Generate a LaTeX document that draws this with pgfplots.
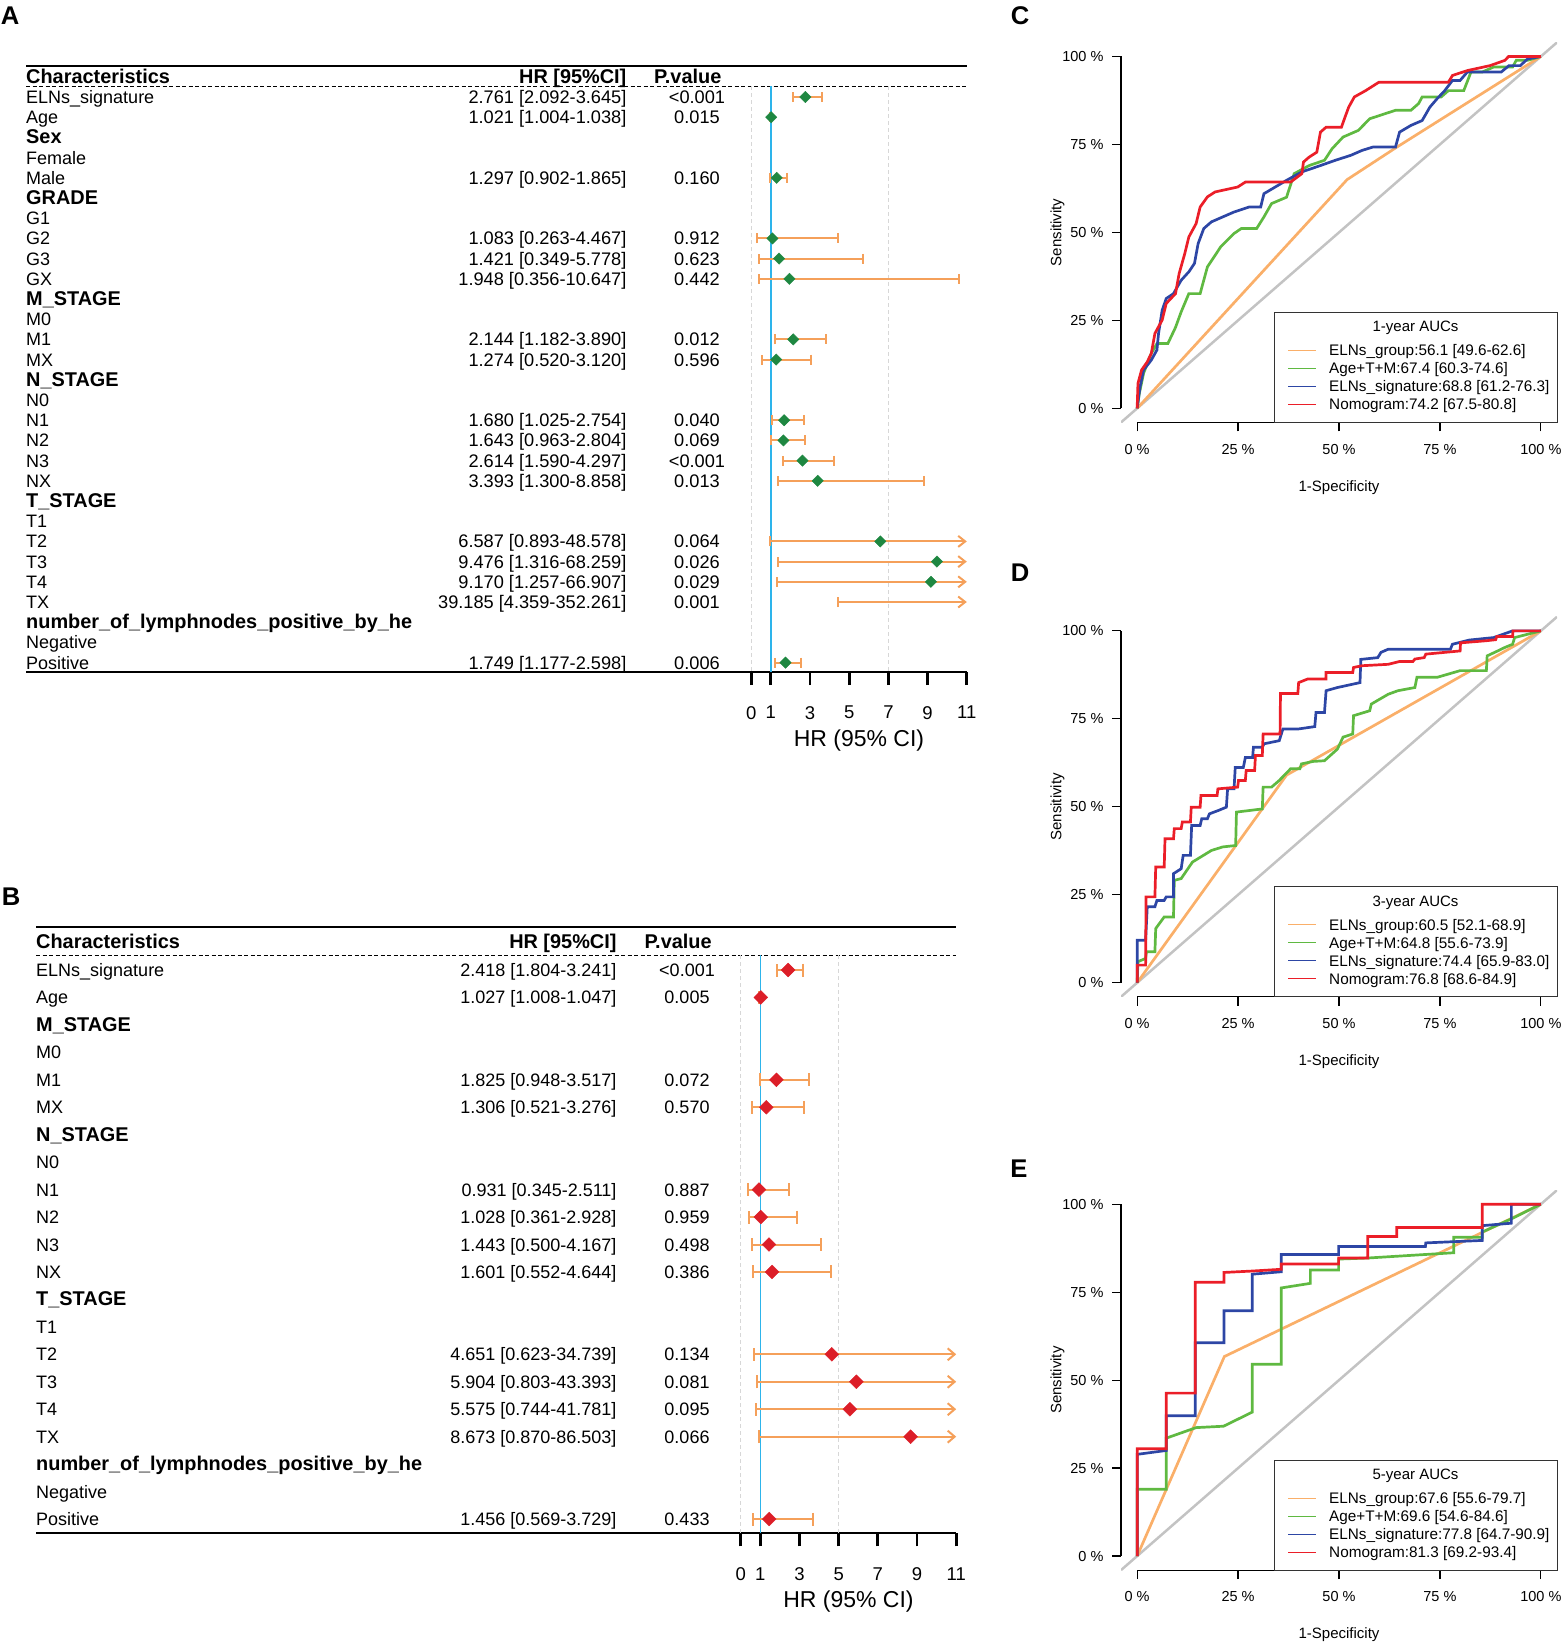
\documentclass[border=0pt]{standalone}
\usepackage{pgfplots}
\pgfplotsset{compat=1.18}
\usepackage{pgfplotstable}
\usepackage{fontspec}
\setmainfont{Liberation Sans}
\usetikzlibrary{arrows.meta}

\definecolor{ciorange}{RGB}{245,160,90}
\definecolor{dgreen}{RGB}{30,135,65}
\definecolor{dred}{RGB}{220,30,40}
\definecolor{refblue}{RGB}{45,180,235}
\definecolor{dashgray}{RGB}{215,215,215}
\definecolor{rocor}{RGB}{250,175,105}
\definecolor{rocgr}{RGB}{95,185,65}
\definecolor{rocbl}{RGB}{45,70,165}
\definecolor{rocrd}{RGB}{235,30,40}
\definecolor{rocdg}{RGB}{195,195,195}

\newcommand{\fs}[1]{\fontsize{#1}{#1}\selectfont}
\newcommand{\hd}[1]{{\bfseries\fs{19.9}#1}}

% R-style legend box in the lower right corner of a ROC panel
% #1 = y of the box bottom (px from top), #2 title, #3..#6 entries
\newcommand{\roclegend}[6]{%
  \begin{scope}[shift={(1274pt,-#1pt)}]
    \draw[black!80, line width=1pt, fill=white] (0pt,0pt) rectangle (283pt,110pt);
    \node[anchor=base, inner sep=0pt, font=\fs{15}] at (141.5pt,90.6pt) {#2};
    \draw[rocor, line width=1.2pt] (14pt,72pt) -- (42pt,72pt);
    \node[anchor=base west, inner sep=0pt, font=\fs{15.3}] at (55pt,66.6pt) {#3};
    \draw[rocgr, line width=1.2pt] (14pt,54pt) -- (42pt,54pt);
    \node[anchor=base west, inner sep=0pt, font=\fs{15.3}] at (55pt,48.6pt) {#4};
    \draw[rocbl, line width=1.2pt] (14pt,36pt) -- (42pt,36pt);
    \node[anchor=base west, inner sep=0pt, font=\fs{15.3}] at (55pt,30.6pt) {#5};
    \draw[rocrd, line width=1.2pt] (14pt,18pt) -- (42pt,18pt);
    \node[anchor=base west, inner sep=0pt, font=\fs{15.3}] at (55pt,12.6pt) {#6};
  \end{scope}}

% forest A: rows with whiskers inside the axis, rows running past 11
\pgfplotstableread{
row hr lo hi
1 2.761 2.092 3.645
2 1.021 1.004 1.038
5 1.297 0.902 1.865
8 1.083 0.263 4.467
9 1.421 0.349 5.778
10 1.948 0.356 10.647
13 2.144 1.182 3.890
14 1.274 0.520 3.120
17 1.680 1.025 2.754
18 1.643 0.963 2.804
19 2.614 1.590 4.297
20 3.393 1.300 8.858
29 1.749 1.177 2.598
}\forestAcap
\pgfplotstableread{
row hr lo hi
23 6.587 0.893 48.578
24 9.476 1.316 68.259
25 9.170 1.257 66.907
26 39.185 4.359 352.261
}\forestAarr

% forest B
\pgfplotstableread{
row hr lo hi
1 2.418 1.804 3.241
2 1.027 1.008 1.047
5 1.825 0.948 3.517
6 1.306 0.521 3.276
9 0.931 0.345 2.511
10 1.028 0.361 2.928
11 1.443 0.500 4.167
12 1.601 0.552 4.644
21 1.456 0.569 3.729
}\forestBcap
\pgfplotstableread{
row hr lo hi
15 4.651 0.623 34.739
16 5.904 0.803 43.393
17 5.575 0.744 41.781
18 8.673 0.870 86.503
}\forestBarr

\pgfplotsset{
  forest/.style={
    scale only axis, anchor=south west, clip=false,
    xmin=0, xmax=11,
    axis x line*=bottom, axis y line=none,
    x axis line style={line width=2pt},
    xtick={0,1,3,5,7,9,11},
    tick align=outside, major tick length=13.3pt,
    xtick style={line width=2.7pt, black},
    /pgf/number format/assume math mode=true,
    xticklabel style={font=\fs{18.5}, yshift=-17.6pt},
  },
  roc/.style={
    scale only axis, anchor=south west, width=436pt, height=380pt,
    xmin=-4, xmax=104, ymin=-4, ymax=104,
    axis x line*=bottom, axis y line*=left,
    x axis line style={shorten <=16.15pt, shorten >=16.15pt, line width=1.2pt},
    y axis line style={shorten <=14.08pt, shorten >=14.08pt, line width=1.2pt},
    xtick={0,25,50,75,100}, ytick={0,25,50,75,100},
    xticklabels={0 \%,25 \%,50 \%,75 \%,100 \%},
    yticklabels={0 \%,25 \%,50 \%,75 \%,100 \%},
    tick align=outside, major tick length=9pt,
    tick style={black, line width=1.2pt},
    ticklabel style={font=\fs{14.5}},
    xticklabel style={yshift=-9pt},
    yticklabel style={xshift=-5pt},
    xlabel={1-Specificity}, ylabel={Sensitivity},
    every axis x label/.style={at={(axis description cs:0.5,-0.1708)}, anchor=center, font=\fs{15}},
    every axis y label/.style={at={(axis description cs:-0.1456,0.5)}, anchor=center, rotate=90, font=\fs{15}},
  },
  rc/.style={line width=2.7pt, #1},
}

\begin{document}
\begin{tikzpicture}
\path[use as bounding box] (0,0) rectangle (1561pt,-1644pt);

% ---------------- panel A ----------------
\node[font=\bfseries\fs{25.6}] at (10pt,-16pt) {A};
\draw[line width=2pt] (26pt,-65.7pt) -- (966.8pt,-65.7pt);
\draw[line width=1pt, dash pattern=on 4pt off 2.5pt] (26pt,-86pt) -- (966.8pt,-86pt);
\draw[line width=2pt] (26pt,-671.7pt) -- (966.8pt,-671.7pt);
\node[anchor=base west, inner sep=0pt, font=\bfseries\fs{19.9}] at (26pt,-83.3pt) {Characteristics};
\node[anchor=base east, inner sep=0pt, font=\bfseries\fs{19.9}] at (626.6pt,-83.3pt) {HR [95\%CI]};
\node[anchor=base west, inner sep=0pt, font=\bfseries\fs{19.9}] at (654pt,-83.3pt) {P.value};
\foreach \i/\nm/\h/\p in {
  1/ELNs\_signature/2.761 [2.092-3.645]/<0.001,
  2/Age/1.021 [1.004-1.038]/0.015,
  3/\hd{Sex}//, 4/Female//,
  5/Male/1.297 [0.902-1.865]/0.160,
  6/\hd{GRADE}//, 7/G1//,
  8/G2/1.083 [0.263-4.467]/0.912,
  9/G3/1.421 [0.349-5.778]/0.623,
  10/GX/1.948 [0.356-10.647]/0.442,
  11/\hd{M\_STAGE}//, 12/M0//,
  13/M1/2.144 [1.182-3.890]/0.012,
  14/MX/1.274 [0.520-3.120]/0.596,
  15/\hd{N\_STAGE}//, 16/N0//,
  17/N1/1.680 [1.025-2.754]/0.040,
  18/N2/1.643 [0.963-2.804]/0.069,
  19/N3/2.614 [1.590-4.297]/<0.001,
  20/NX/3.393 [1.300-8.858]/0.013,
  21/\hd{T\_STAGE}//, 22/T1//,
  23/T2/6.587 [0.893-48.578]/0.064,
  24/T3/9.476 [1.316-68.259]/0.026,
  25/T4/9.170 [1.257-66.907]/0.029,
  26/TX/39.185 [4.359-352.261]/0.001,
  27/\hd{number\_of\_lymphnodes\_positive\_by\_he}//, 28/Negative//,
  29/Positive/1.749 [1.177-2.598]/0.006}{
  \pgfmathsetmacro\yy{-(103.5+20.2*(\i-1))}
  \node[anchor=base west, inner sep=0pt, font=\fs{18}] at (26pt,\yy pt) {\nm};
  \node[anchor=base east, inner sep=0pt, font=\fs{18.2}] at (626.6pt,\yy pt) {\h};
  \node[anchor=base, inner sep=0pt, font=\fs{18.2}] at (697pt,\yy pt) {\p};
}
\begin{axis}[forest, at={(751.2pt,-671.7pt)}, width=215.6pt, height=585.7pt,
  ymin=-29.45, ymax=-0.455]
\addplot[dashgray, line width=1pt, dash pattern=on 4pt off 3pt] coordinates {(0,-0.455) (0,-29.45)};
\addplot[dashgray, line width=1pt, dash pattern=on 4pt off 3pt] coordinates {(7,-0.455) (7,-29.45)};
\addplot[refblue, line width=1.5pt] coordinates {(1,-0.455) (1,-29.45)};
\addplot[ciorange, line width=2pt, {Bar[width=10pt]}-{Bar[width=10pt]},
  quiver={u=\thisrow{hi}-\thisrow{lo}, v=0}] table[x=lo, y expr=-\thisrow{row}] {\forestAcap};
\addplot[ciorange, line width=2pt, {Bar[width=10pt]}-{Straight Barb[length=7pt,width=11pt]},
  quiver={u=11-\thisrow{lo}, v=0}] table[x=lo, y expr=-\thisrow{row}] {\forestAarr};
\addplot[only marks, mark=square*, mark size=4pt, mark options={rotate=45, fill=dgreen, draw=dgreen}]
  table[x=hr, y expr=-\thisrow{row}] {\forestAcap};
\addplot[only marks, mark=square*, mark size=4pt, mark options={rotate=45, fill=dgreen, draw=dgreen},
  restrict x to domain=-1:11] table[x=hr, y expr=-\thisrow{row}] {\forestAarr};
\end{axis}
\node[font=\fs{23}] at (859pt,-740.7pt) {HR (95\% CI)};

% ---------------- panel B ----------------
\node[font=\bfseries\fs{25.6}] at (11pt,-897pt) {B};
\draw[line width=2pt] (36pt,-927.3pt) -- (956.2pt,-927.3pt);
\draw[line width=1pt, dash pattern=on 4pt off 2.5pt] (36pt,-955pt) -- (956.2pt,-955pt);
\draw[line width=2pt] (36pt,-1533pt) -- (956.2pt,-1533pt);
\node[anchor=base west, inner sep=0pt, font=\bfseries\fs{19.9}] at (36pt,-948.3pt) {Characteristics};
\node[anchor=base east, inner sep=0pt, font=\bfseries\fs{19.9}] at (616.7pt,-948.3pt) {HR [95\%CI]};
\node[anchor=base west, inner sep=0pt, font=\bfseries\fs{19.9}] at (644.3pt,-948.3pt) {P.value};
\foreach \i/\nm/\h/\p in {
  1/ELNs\_signature/2.418 [1.804-3.241]/<0.001,
  2/Age/1.027 [1.008-1.047]/0.005,
  3/\hd{M\_STAGE}//, 4/M0//,
  5/M1/1.825 [0.948-3.517]/0.072,
  6/MX/1.306 [0.521-3.276]/0.570,
  7/\hd{N\_STAGE}//, 8/N0//,
  9/N1/0.931 [0.345-2.511]/0.887,
  10/N2/1.028 [0.361-2.928]/0.959,
  11/N3/1.443 [0.500-4.167]/0.498,
  12/NX/1.601 [0.552-4.644]/0.386,
  13/\hd{T\_STAGE}//, 14/T1//,
  15/T2/4.651 [0.623-34.739]/0.134,
  16/T3/5.904 [0.803-43.393]/0.081,
  17/T4/5.575 [0.744-41.781]/0.095,
  18/TX/8.673 [0.870-86.503]/0.066,
  19/\hd{number\_of\_lymphnodes\_positive\_by\_he}//, 20/Negative//,
  21/Positive/1.456 [0.569-3.729]/0.433}{
  \pgfmathsetmacro\yy{-(976.5+27.45*(\i-1))}
  \node[anchor=base west, inner sep=0pt, font=\fs{18}] at (36pt,\yy pt) {\nm};
  \node[anchor=base east, inner sep=0pt, font=\fs{18}] at (616.7pt,\yy pt) {\h};
  \node[anchor=base, inner sep=0pt, font=\fs{18}] at (687pt,\yy pt) {\p};
}
\begin{axis}[forest, at={(740.7pt,-1533pt)}, width=215.5pt, height=578pt,
  ymin=-21.51, ymax=-0.454]
\addplot[dashgray, line width=1pt, dash pattern=on 4pt off 3pt] coordinates {(0,-0.454) (0,-21.51)};
\addplot[dashgray, line width=1pt, dash pattern=on 4pt off 3pt] coordinates {(5,-0.454) (5,-21.51)};
\addplot[refblue, line width=1.5pt] coordinates {(1,-0.454) (1,-21.51)};
\addplot[ciorange, line width=2pt, {Bar[width=13pt]}-{Bar[width=13pt]},
  quiver={u=\thisrow{hi}-\thisrow{lo}, v=0}] table[x=lo, y expr=-\thisrow{row}] {\forestBcap};
\addplot[ciorange, line width=2pt, {Bar[width=13pt]}-{Straight Barb[length=7pt,width=12pt]},
  quiver={u=11-\thisrow{lo}, v=0}] table[x=lo, y expr=-\thisrow{row}] {\forestBarr};
\addplot[only marks, mark=square*, mark size=4.9pt, mark options={rotate=45, fill=dred, draw=dred}]
  table[x=hr, y expr=-\thisrow{row}] {\forestBcap};
\addplot[only marks, mark=square*, mark size=4.9pt, mark options={rotate=45, fill=dred, draw=dred},
  restrict x to domain=-1:11] table[x=hr, y expr=-\thisrow{row}] {\forestBarr};
\end{axis}
\node[font=\fs{23}] at (848.5pt,-1602pt) {HR (95\% CI)};

% ---------------- panel C ----------------
\node[font=\bfseries\fs{25.6}] at (1020pt,-16pt) {C};
\begin{axis}[roc, at={(1121pt,-422.4pt)}]
\addplot[rc=rocdg, line width=2.5pt] coordinates {(-4,-4) (104,104)};
\addplot[rc=rocor] coordinates {(0,0) (52,65) (64,74) (100,100)};
\addplot[rc=rocgr] coordinates {(0,0) (0.5,4) (1.6,10) (3.5,15.6) (4.9,18.4) (7.6,18.4) (9.5,23) (10.9,27.4) (12.8,32.6) (15.6,32.6) (17.4,40.2) (20.7,45.9) (24,49.7) (25.8,51.1) (29.6,51.1) (31.4,54.4) (33.3,58.2) (37,60) (38.9,66.7) (42.6,69) (46.4,70.5) (48.3,73.8) (51,77.1) (54.8,79) (57.6,82.3) (61.3,83.7) (64,84.7) (67.8,84.7) (69.7,86.6) (70.6,88.5) (75.3,88.5) (77.1,90.3) (80.9,90.3) (82.7,95.6) (85.5,95.6) (88.3,97) (93,97) (93.9,98.9) (96.7,98.9) (100,100)};
\addplot[rc=rocbl] coordinates {(0,0) (0.7,6) (1.6,10.9) (3.5,13.7) (4.9,16.6) (5.3,21.3) (6.2,27.9) (7.2,31.2) (9,32.6) (10.9,36.4) (12.8,38.8) (14.2,41.2) (15.1,46.8) (16.5,51.1) (18.4,53) (20.2,53.9) (24,55.8) (27.7,57.2) (30.6,57.2) (31.4,61) (34.2,62.9) (37,64.8) (40.8,67.2) (45.4,69) (49.1,70.5) (52.9,71.9) (55.7,73.3) (58.5,74.3) (64,74.3) (65,78.5) (67.8,80.4) (70.6,81.8) (72.5,85.6) (74.3,88) (76.2,90.3) (78.1,93.2) (80,93.2) (81.8,95.6) (90.2,95.6) (92.1,97.4) (94.9,97.4) (96.7,99.3) (100,100)};
\addplot[rc=rocrd] coordinates {(0,0) (0.2,7.1) (1.1,10.9) (2.5,13.2) (3.5,15.6) (4.4,21.3) (6.2,25.1) (7.2,29.8) (9.5,32.6) (10.4,38.3) (11.8,44) (12.8,48.7) (14.6,52.5) (15.6,57.2) (17.4,60.1) (19.3,61.5) (24.9,62.9) (26.8,64.3) (38,64.3) (40.8,66.7) (41.2,70) (42.6,71.4) (44.5,72.8) (45.4,78.5) (46.8,79.9) (50.6,79.9) (51.5,82.8) (52.4,85.6) (53.8,88.5) (56.6,90.3) (59.9,92.7) (77.1,92.7) (78.1,94.6) (81.8,96) (87.4,97.4) (91.1,98.9) (92,100) (100,100)};
\end{axis}
\roclegend{422.4}{1-year AUCs}{ELNs\_group:56.1 [49.6-62.6]}{Age+T+M:67.4 [60.3-74.6]}{ELNs\_signature:68.8 [61.2-76.3]}{Nomogram:74.2 [67.5-80.8]}

% ---------------- panel D ----------------
\node[font=\bfseries\fs{25.6}] at (1020pt,-573pt) {D};
\begin{axis}[roc, at={(1121pt,-996.8pt)}]
\addplot[rc=rocdg, line width=2.5pt] coordinates {(-4,-4) (104,104)};
\addplot[rc=rocor] coordinates {(0,0) (37,59) (100,100)};
\addplot[rc=rocgr] coordinates {(0,0) (0.2,6) (2.1,6.9) (2.3,8.8) (4.4,8.8) (4.6,15.4) (6.7,18.7) (9,18.7) (9.2,29.1) (10.9,29.6) (13.7,34.3) (18.4,37.6) (21.2,38.6) (24.4,39) (24.6,48.5) (31,49.4) (31.2,55.6) (33.3,55.6) (35.2,57.5) (38,60.8) (40.3,60.8) (40.7,62.2) (43.6,62.9) (46.4,63.1) (49.6,66.4) (51,69.8) (53.4,70.7) (53.6,75.9) (57.6,77.3) (58,79.2) (62.2,82) (64.6,83) (68.8,83.9) (69.3,86.8) (74.3,86.8) (80,88.7) (86.5,88.7) (86.7,92.9) (89.3,94.3) (91.1,95.3) (93,96.2) (93.5,98.1) (100,100)};
\addplot[rc=rocbl] coordinates {(0,0) (0,5.7) (0,12.1) (2.1,12.1) (2.5,21.6) (4.4,21.6) (4.9,23.4) (6.7,23.4) (7.2,24.4) (9,24.4) (9,31) (10.9,32.4) (11.4,36.2) (13.2,36.2) (13.5,44.7) (15.6,44.7) (16,46.6) (17.4,46.6) (17.9,48) (20.2,49) (22.1,49.9) (22.4,55.1) (24,55.1) (24.3,61.2) (26.3,61.2) (26.8,64) (28.6,64) (28.8,66.9) (31,66.9) (31.4,67.9) (35.2,68.8) (36.1,72.1) (39.8,72.1) (44,72.8) (44.3,76.8) (46.4,76.8) (46.8,83) (49.6,83.9) (55.2,85.3) (55.4,91.9) (59.6,92.4) (60.4,93.9) (62.2,94.8) (77.6,94.8) (78.1,96.2) (82.3,97.4) (88.3,98.1) (93,100) (100,100)};
\addplot[rc=rocrd] coordinates {(0,0) (0,5) (2.1,5) (2.2,24.4) (4.4,24.4) (4.6,32.9) (6.7,32.9) (6.9,40.9) (9,40.9) (9.2,43.8) (10.9,43.8) (11.2,45.7) (13.2,45.7) (13.4,49.9) (15.6,49.9) (15.8,53.2) (19.8,53.2) (20,55.1) (24.9,55.6) (25.1,57.5) (26.8,57.5) (27,60.3) (29.1,60.3) (29.3,64.6) (31,64.6) (31.2,70.7) (35.4,70.7) (35.5,82.2) (39.8,82.2) (40,85.3) (42.2,86.3) (46.8,86.3) (46.8,88.2) (53.4,88.2) (53.6,89.6) (55.7,90.1) (62.2,90.5) (65,91.3) (68.3,91.3) (68.8,92) (71.1,92.4) (71.5,93.4) (75.3,93.8) (80,94.3) (80.1,96.6) (86.5,97.2) (88.8,97.5) (89.1,98.4) (93,98.4) (93.1,100) (100,100)};
\end{axis}
\roclegend{996.8}{3-year AUCs}{ELNs\_group:60.5 [52.1-68.9]}{Age+T+M:64.8 [55.6-73.9]}{ELNs\_signature:74.4 [65.9-83.0]}{Nomogram:76.8 [68.6-84.9]}

% ---------------- panel E ----------------
\node[font=\bfseries\fs{25.6}] at (1019pt,-1169pt) {E};
\begin{axis}[roc, at={(1121pt,-1570.1pt)}]
\addplot[rc=rocdg, line width=2.5pt] coordinates {(-4,-4) (104,104)};
\addplot[rc=rocor] coordinates {(0,0) (21.6,56.7) (100,100)};
\addplot[rc=rocgr] coordinates {(0,0) (0,19) (7.2,19) (7.2,33.5) (14.6,36.5) (21.4,36.9) (28.5,40.9) (28.5,54.5) (35.7,54.5) (35.7,76.2) (42.9,77.5) (42.9,81.3) (49.9,81.3) (49.9,84.4) (57.1,84.7) (78.4,86.2) (78.4,90.6) (85.5,90.6) (85.5,92.1) (93,96) (100,100)};
\addplot[rc=rocbl] coordinates {(0,0) (0,28.9) (7.2,30) (7.2,39.9) (14.4,39.9) (14.4,60.6) (21.5,60.6) (21.5,69.7) (28.5,69.7) (28.5,80.1) (35.7,80.8) (35.7,85.7) (49.9,85.7) (49.9,88) (71.4,88) (71.5,89) (85.5,89.7) (85.5,93.9) (92.7,94.6) (92.7,100) (100,100)};
\addplot[rc=rocrd] coordinates {(0,0) (0,30.5) (7.2,30.5) (7.2,46.3) (14.4,46.3) (14.4,77.8) (21.5,77.8) (21.5,80.6) (28.5,81) (35.7,81.5) (35.7,83) (49.9,83) (49.9,84.7) (57.1,84.7) (57.1,90.8) (64.3,90.8) (64.3,93.4) (85.5,93.4) (85.5,100) (100,100)};
\end{axis}
\roclegend{1570.1}{5-year AUCs}{ELNs\_group:67.6 [55.6-79.7]}{Age+T+M:69.6 [54.6-84.6]}{ELNs\_signature:77.8 [64.7-90.9]}{Nomogram:81.3 [69.2-93.4]}
\end{tikzpicture}
\end{document}
